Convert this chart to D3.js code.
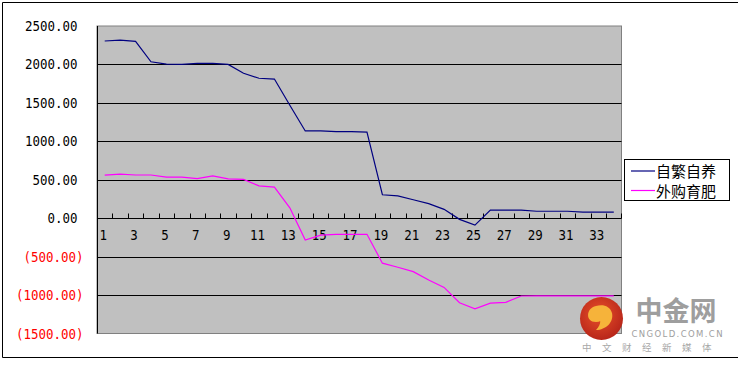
<!DOCTYPE html>
<html><head><meta charset="utf-8">
<script src="https://cdn.jsdelivr.net/npm/d3@7"></script>
<style>body{margin:0;background:#fff}svg{display:block}</style>
</head><body>
<svg id="c" width="738" height="366"></svg>
<script>
const categories = d3.range(1, 35);
const seriesNames = ["自繁自养", "外购育肥"];
const selfBred = [2305, 2315, 2300, 2035, 2005, 2000, 2015, 2015, 2000, 1885,
  1820, 1810, 1470, 1135, 1135, 1125, 1125, 1120, 305, 290,
  240, 190, 115, -15, -90, 105, 105, 105, 90, 90,
  90, 78, 78, 78];
const purchased = [560, 572, 562, 562, 535, 535, 515, 550, 512, 505,
  420, 405, 135, -285, -220, -210, -210, -210, -585, -638,
  -695, -803, -900, -1100, -1180, -1105, -1095, -1012, -1010, -1010,
  -1010, -1010, -1010, -1010];
const yTicks = [2500, 2000, 1500, 1000, 500, 0, -500, -1000, -1500];
const xLabels = categories.filter(c => c % 2 === 1);
const colors = ["#000080", "#FF00FF"];

const svg = d3.select("#c");
const L = 97, R = 621.5, T = 26, B = 333.5;
const x = d3.scaleBand().domain(categories).range([L, R]);
const y = d3.scaleLinear().domain([-1500, 2500]).range([B, T]);

// outer frame
svg.append("line").attr("x1",2.5).attr("x2",738).attr("y1",2.5).attr("y2",2.5).attr("stroke","#000");
svg.append("line").attr("x1",2.5).attr("x2",738).attr("y1",357.5).attr("y2",357.5).attr("stroke","#000");
svg.append("line").attr("x1",2.5).attr("x2",2.5).attr("y1",2.5).attr("y2",357.5).attr("stroke","#000");

// plot bg
svg.append("rect").attr("x",L).attr("y",T).attr("width",R-L).attr("height",B-T)
  .attr("fill","#C0C0C0").attr("stroke","#808080");

// gridlines
svg.append("g").selectAll("line").data(yTicks.filter(v => v > -1500 && v < 2500)).join("line")
  .attr("x1",L).attr("x2",R).attr("y1",d=>Math.round(y(d))+0.5).attr("y2",d=>Math.round(y(d))+0.5)
  .attr("stroke","#000");
// left axis line
svg.append("line").attr("x1",L+0.5).attr("x2",L+0.5).attr("y1",T).attr("y2",B).attr("stroke","#000");

// y labels
const fmt = d3.format(".2f");
const CW = 7.5;
svg.append("g").selectAll("text").data(yTicks).join("text")
  .attr("x", d => d < 0 ? 83.5 : 77.5)
  .attr("y", d => y(d) + 5)
  .attr("text-anchor","end")
  .attr("font-family","'DejaVu Sans Mono', monospace")
  .attr("font-size", 14.5)
  .attr("fill", d => d < 0 ? "#FF0000" : "#000")
  .text(d => d < 0 ? "(" + fmt(-d) + ")" : fmt(d))
  .attr("textLength", function(){ return this.textContent.length * CW; })
  .attr("lengthAdjust","spacingAndGlyphs");

// x axis ticks (upward) at band boundaries
const y0 = Math.round(y(0)) + 0.5;
svg.append("g").selectAll("line").data(categories).join("line")
  .attr("x1", d => Math.round(x(d) + x.bandwidth()) + 0.5)
  .attr("x2", d => Math.round(x(d) + x.bandwidth()) + 0.5)
  .attr("y1", y0 - 5).attr("y2", y0).attr("stroke","#000");
svg.append("g").selectAll("text").data(xLabels).join("text")
  .attr("x", d => x(d) + x.bandwidth()/2 - 1.5)
  .attr("y", y0 + 21.5)
  .attr("text-anchor","middle")
  .attr("font-family","'DejaVu Sans Mono', monospace")
  .attr("font-size", 14.5)
  .attr("fill","#000")
  .text(d => d)
  .attr("textLength", function(){ return this.textContent.length * CW; })
  .attr("lengthAdjust","spacingAndGlyphs");

// lines
const line = d3.line().x((d,i) => x(categories[i]) + x.bandwidth()/2).y(d => y(d));
[selfBred, purchased].forEach((s, k) => {
  svg.append("path").datum(s).attr("d", line).attr("fill","none")
    .attr("stroke", colors[k]).attr("stroke-width", 1.2);
});

// legend
const lg = svg.append("g");
lg.append("rect").attr("x",624.5).attr("y",159.5).attr("width",105).attr("height",41)
  .attr("fill","#fff").attr("stroke","#000");
seriesNames.forEach((n, i) => {
  const ly = 171 + i * 19.5;
  lg.append("line").attr("x1",631).attr("x2",655).attr("y1",ly).attr("y2",ly).attr("stroke",colors[i]).attr("stroke-width",1.2);
  lg.append("text").attr("x",656).attr("y",ly+6).attr("font-family","'Noto Sans CJK SC'")
    .attr("font-size",15).attr("fill","#000").text(n);
});

// watermark logo
const defs = svg.append("defs");
const rg = defs.append("radialGradient").attr("id","lg").attr("cx","45%").attr("cy","40%").attr("r","60%");
rg.append("stop").attr("offset","0%").attr("stop-color","#E8502A");
rg.append("stop").attr("offset","100%").attr("stop-color","#B8261A");
svg.append("circle").attr("cx",601.5).attr("cy",318.5).attr("r",21.5).attr("fill","url(#lg)");
svg.append("path").attr("d","M596,306 C586,308 585,322 596,322 C604,322 606,314 600,312 C596,311 593,316 597,317 C601,318 602,324 596,330 C606,330 614,322 612,313 C610,306 603,304 596,306 Z")
  .attr("fill","#F6B33A");
svg.append("text").attr("x",676).attr("y",320.5).attr("text-anchor","middle")
  .attr("font-family","'Noto Sans CJK SC'").attr("font-weight","bold").attr("font-size",27)
  .attr("fill","#9E9E9E").text("中金网");
svg.append("text").attr("x",677).attr("y",337).attr("text-anchor","middle")
  .attr("font-family","'DejaVu Sans', sans-serif").attr("font-size",8.5)
  .attr("fill","#9E9E9E").attr("textLength",91).text("CNGOLD.COM.CN");
svg.append("text").attr("x",652).attr("y",350.5).attr("text-anchor","middle")
  .attr("font-family","'Noto Sans CJK SC'").attr("font-size",9.5)
  .attr("fill","#A8A8A8").attr("letter-spacing",10.5).text("中文财经新媒体");
</script>
</body></html>
